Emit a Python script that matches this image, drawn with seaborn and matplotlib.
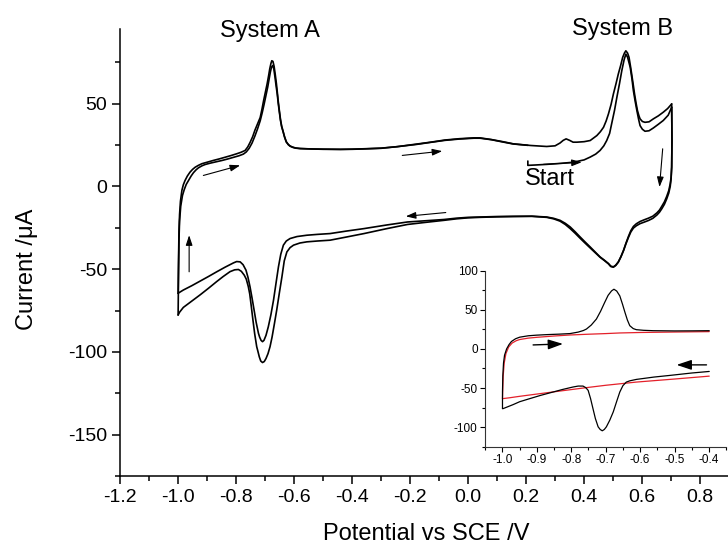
import pandas as pd
import matplotlib
matplotlib.use("Agg")
import matplotlib.pyplot as plt
import seaborn as sns
from matplotlib.ticker import MultipleLocator

# CV DATA: (potential / V vs SCE, current / uA)

# first anodic scan from the start potential
start_sweep = [
    (0.206, 15.3), (0.206, 12.7), (0.230, 12.9), (0.271, 13.3), (0.320, 13.9),
    (0.363, 14.6), (0.400, 16.0), (0.421, 17.7), (0.440, 19.5), (0.455, 21.7),
    (0.468, 24.5), (0.478, 27.7), (0.488, 32.0), (0.495, 37.8), (0.505, 46.0),
    (0.513, 53.8), (0.522, 62.0), (0.530, 69.9), (0.538, 76.5), (0.544, 79.9),
    (0.550, 78.0), (0.559, 71.9), (0.565, 65.0), (0.570, 57.8), (0.576, 51.5),
    (0.582, 45.8), (0.588, 40.5), (0.593, 36.7), (0.601, 34.5), (0.610, 33.3),
    (0.624, 33.6), (0.639, 35.3), (0.656, 37.5), (0.673, 39.8), (0.690, 43.0),
    (0.702, 47.8),
]

# cathodic scan 1
down_1 = [
    (0.702, 47.8), (0.703, 27.7), (0.702, 11.6), (0.700, 5.5), (0.697, 1.6),
    (0.692, -2.5), (0.685, -6.0), (0.677, -9.3), (0.668, -12.0), (0.660, -14.3),
    (0.651, -16.0), (0.637, -18.0), (0.622, -19.2), (0.607, -20.2), (0.593, -21.2),
    (0.580, -22.6), (0.570, -24.2), (0.561, -26.8), (0.553, -30.2), (0.544, -34.5),
    (0.536, -38.6), (0.527, -42.4), (0.518, -45.6), (0.509, -47.6), (0.501, -48.6),
    (0.492, -48.2), (0.484, -46.6), (0.470, -44.6), (0.455, -42.6), (0.438, -39.6),
    (0.421, -36.6), (0.403, -33.5), (0.386, -30.5), (0.369, -27.4), (0.352, -24.5),
    (0.335, -22.3), (0.317, -20.5), (0.295, -19.3), (0.271, -18.5), (0.220, -18.0),
    (0.156, -18.1), (0.100, -18.2), (0.041, -18.5), (0.000, -18.7), (-0.040, -19.2),
    (-0.083, -20.0), (-0.150, -20.8), (-0.209, -21.5), (-0.280, -23.3), (-0.359, -25.5),
    (-0.420, -27.0), (-0.476, -28.5), (-0.520, -29.0), (-0.556, -29.5), (-0.590, -30.3),
    (-0.614, -31.5), (-0.627, -33.0), (-0.637, -35.5), (-0.646, -41.0), (-0.654, -48.6),
    (-0.662, -58.0), (-0.671, -68.7), (-0.680, -77.5), (-0.689, -84.8), (-0.697, -90.0),
    (-0.704, -93.0), (-0.709, -93.8), (-0.714, -93.0), (-0.719, -91.0), (-0.723, -88.7),
    (-0.731, -82.0), (-0.738, -74.7), (-0.745, -67.5), (-0.752, -60.7), (-0.759, -55.0),
    (-0.766, -50.6), (-0.776, -47.3), (-0.786, -45.6), (-0.798, -45.4), (-0.809, -46.2),
    (-0.838, -48.8), (-0.867, -51.6), (-0.895, -54.4), (-0.924, -57.2), (-0.953, -60.0),
    (-0.982, -62.6), (-0.995, -64.0), (-1.000, -64.6),
]

# anodic scan 1
up_1 = [
    (-1.000, -64.6), (-0.999, -50.0), (-0.998, -38.0), (-0.997, -27.0), (-0.995, -17.0),
    (-0.992, -9.0), (-0.987, -2.4), (-0.982, 1.0), (-0.976, 3.6), (-0.968, 6.3),
    (-0.959, 8.6), (-0.950, 10.3), (-0.941, 11.6), (-0.930, 12.7), (-0.918, 13.7),
    (-0.898, 14.7), (-0.878, 15.7), (-0.858, 16.6), (-0.838, 17.6), (-0.818, 18.6),
    (-0.798, 19.7), (-0.783, 20.6), (-0.769, 21.7), (-0.760, 23.8), (-0.752, 26.5),
    (-0.743, 30.0), (-0.735, 34.0), (-0.726, 37.8), (-0.717, 41.6), (-0.711, 46.5),
    (-0.705, 52.0), (-0.699, 57.0), (-0.693, 62.0), (-0.688, 66.8), (-0.684, 71.0),
    (-0.680, 74.2), (-0.677, 75.9), (-0.673, 75.5), (-0.669, 72.5), (-0.665, 67.5),
    (-0.661, 62.0), (-0.658, 57.0), (-0.655, 51.8), (-0.651, 46.0), (-0.647, 40.5),
    (-0.643, 36.5), (-0.638, 33.3), (-0.633, 30.0), (-0.627, 27.0), (-0.620, 25.3),
    (-0.614, 24.4), (-0.605, 23.7), (-0.595, 23.2), (-0.579, 22.9), (-0.540, 22.6),
    (-0.500, 22.5), (-0.440, 22.4), (-0.400, 22.5), (-0.362, 22.7), (-0.300, 23.1),
    (-0.244, 24.0), (-0.180, 25.5), (-0.129, 26.7), (-0.080, 28.0), (-0.030, 28.8),
    (0.020, 29.3), (0.041, 29.3), (0.080, 28.3), (0.120, 27.0), (0.156, 25.7),
    (0.216, 24.7), (0.271, 24.1), (0.300, 24.5), (0.317, 26.2), (0.328, 27.8),
    (0.338, 28.7), (0.350, 27.8), (0.362, 26.7), (0.375, 26.7), (0.400, 27.0),
    (0.421, 27.7), (0.444, 30.7), (0.456, 33.0), (0.467, 35.7), (0.476, 39.5),
    (0.484, 43.8), (0.493, 49.5), (0.501, 55.8), (0.510, 62.0), (0.518, 67.9),
    (0.526, 73.0), (0.533, 77.9), (0.539, 80.5), (0.544, 81.9), (0.550, 80.5),
    (0.555, 77.9), (0.560, 72.5), (0.564, 67.9), (0.569, 62.0), (0.574, 55.8),
    (0.579, 50.5), (0.584, 45.8), (0.589, 42.7), (0.593, 40.8), (0.601, 39.2),
    (0.610, 38.7), (0.624, 39.0), (0.639, 40.8), (0.656, 42.6), (0.673, 44.8),
    (0.688, 47.0), (0.702, 49.8),
]

# cathodic scan 2
down_2 = [
    (0.702, 49.8), (0.703, 27.7), (0.702, 11.6), (0.700, 4.5), (0.697, 0.0),
    (0.692, -4.0), (0.685, -7.5), (0.677, -10.8), (0.668, -13.5), (0.660, -15.6),
    (0.651, -17.3), (0.637, -19.3), (0.622, -20.6), (0.607, -21.6), (0.593, -22.5),
    (0.580, -23.8), (0.570, -25.2), (0.561, -27.6), (0.553, -30.8), (0.544, -34.8),
    (0.536, -38.8), (0.527, -42.6), (0.518, -45.8), (0.509, -47.8), (0.501, -48.8),
    (0.492, -48.4), (0.484, -46.8), (0.470, -44.8), (0.455, -42.8), (0.438, -40.0),
    (0.421, -37.2), (0.403, -34.2), (0.386, -31.3), (0.369, -28.3), (0.352, -25.5),
    (0.335, -23.0), (0.317, -21.0), (0.295, -19.6), (0.271, -18.7), (0.220, -18.1),
    (0.156, -18.2), (0.100, -18.4), (0.041, -18.7), (0.000, -19.0), (-0.040, -19.6),
    (-0.083, -20.5), (-0.150, -21.8), (-0.209, -23.0), (-0.280, -25.5), (-0.359, -28.5),
    (-0.420, -30.6), (-0.476, -32.5), (-0.520, -33.0), (-0.556, -33.5), (-0.580, -34.2),
    (-0.602, -35.5), (-0.614, -37.0), (-0.625, -39.6), (-0.634, -45.0), (-0.642, -54.6),
    (-0.651, -64.5), (-0.660, -74.7), (-0.668, -83.0), (-0.676, -91.0), (-0.683, -96.8),
    (-0.690, -101.0), (-0.697, -104.0), (-0.703, -105.8), (-0.709, -106.4), (-0.715, -105.5),
    (-0.720, -103.0), (-0.725, -99.5), (-0.729, -96.8), (-0.736, -89.0), (-0.742, -80.7),
    (-0.748, -72.0), (-0.753, -65.0), (-0.758, -60.5), (-0.765, -56.0), (-0.772, -53.6),
    (-0.782, -51.3), (-0.792, -50.2), (-0.805, -50.4), (-0.821, -51.5), (-0.845, -54.5),
    (-0.867, -57.5), (-0.895, -61.5), (-0.924, -65.5), (-0.953, -69.3), (-0.982, -73.1),
    (-0.995, -76.0), (-1.000, -77.7),
]

# anodic scan 2, back to the start potential
up_2 = [
    (-1.000, -77.7), (-0.999, -60.0), (-0.998, -45.0), (-0.997, -32.0), (-0.995, -21.0),
    (-0.991, -12.0), (-0.985, -5.5), (-0.979, -2.0), (-0.972, 1.2), (-0.964, 3.6),
    (-0.955, 6.3), (-0.947, 8.3), (-0.938, 10.0), (-0.930, 11.2), (-0.918, 12.4),
    (-0.907, 13.2), (-0.890, 14.0), (-0.870, 14.8), (-0.850, 15.6), (-0.830, 16.5),
    (-0.810, 17.5), (-0.790, 18.5), (-0.775, 19.5), (-0.765, 20.8), (-0.755, 23.0),
    (-0.745, 26.2), (-0.735, 30.5), (-0.726, 34.8), (-0.717, 39.6), (-0.710, 44.5),
    (-0.703, 50.0), (-0.697, 55.0), (-0.691, 60.0), (-0.686, 65.0), (-0.682, 69.0),
    (-0.678, 72.0), (-0.674, 73.0), (-0.670, 71.0), (-0.666, 66.0), (-0.662, 60.5),
    (-0.658, 55.5), (-0.655, 50.5), (-0.651, 45.0), (-0.647, 39.8), (-0.643, 36.0),
    (-0.638, 33.0), (-0.633, 29.8), (-0.627, 26.8), (-0.620, 25.2), (-0.614, 24.3),
    (-0.605, 23.6), (-0.595, 23.1), (-0.579, 22.8), (-0.540, 22.6), (-0.500, 22.4),
    (-0.440, 22.3), (-0.400, 22.4), (-0.362, 22.6), (-0.300, 23.0), (-0.244, 24.0),
    (-0.180, 25.3), (-0.129, 26.6), (-0.080, 27.8), (-0.030, 28.6), (0.020, 29.1),
    (0.041, 29.1), (0.080, 28.2), (0.120, 26.8), (0.156, 25.6), (0.206, 24.8),
]

# INSET: one cycle of system A (black) and blank electrolyte (red)
inset_up = [
    (-1.000, -76.3), (-1.000, -55.0), (-0.999, -34.0), (-0.997, -18.0), (-0.994, -8.0),
    (-0.988, 0.0), (-0.981, 5.5), (-0.974, 9.5), (-0.962, 13.0), (-0.950, 15.0),
    (-0.925, 16.8), (-0.901, 17.6), (-0.870, 18.3), (-0.835, 18.9), (-0.804, 19.6),
    (-0.780, 21.5), (-0.765, 23.5), (-0.756, 25.4), (-0.742, 30.5), (-0.727, 38.2),
    (-0.715, 48.0), (-0.703, 59.4), (-0.693, 68.5), (-0.683, 74.2), (-0.676, 76.3),
    (-0.668, 74.0), (-0.659, 67.8), (-0.651, 57.0), (-0.644, 46.7), (-0.637, 37.0),
    (-0.630, 29.7), (-0.620, 26.0), (-0.611, 24.6), (-0.590, 23.8), (-0.562, 23.3),
    (-0.500, 23.0), (-0.450, 23.1), (-0.399, 23.3),
]
inset_down = [
    (-0.399, -28.8), (-0.450, -30.8), (-0.514, -33.9), (-0.560, -36.0), (-0.611, -39.0),
    (-0.630, -40.8), (-0.640, -42.4), (-0.650, -47.0), (-0.659, -55.1), (-0.668, -67.0),
    (-0.678, -80.5), (-0.688, -91.0), (-0.698, -99.6), (-0.704, -103.0), (-0.710, -104.7),
    (-0.716, -103.0), (-0.722, -99.6), (-0.730, -89.0), (-0.737, -76.3), (-0.744, -63.5),
    (-0.751, -53.0), (-0.758, -49.5), (-0.766, -47.5), (-0.780, -47.5), (-0.795, -48.7),
    (-0.825, -51.8), (-0.853, -55.1), (-0.890, -59.5), (-0.921, -63.6), (-0.950, -67.5),
    (-0.969, -71.2), (-0.985, -74.0), (-0.998, -76.3), (-1.000, -76.3),
]
blank_up = [
    (-1.000, -63.6), (-0.998, -35.0), (-0.995, -18.0), (-0.990, -6.0), (-0.982, 2.5),
    (-0.972, 7.5), (-0.960, 10.5), (-0.950, 12.0), (-0.925, 13.8), (-0.901, 14.8),
    (-0.850, 16.5), (-0.804, 17.8), (-0.750, 18.8), (-0.700, 19.6), (-0.659, 20.4),
    (-0.600, 21.0), (-0.500, 21.6), (-0.399, 22.1),
]
blank_down = [
    (-0.399, -34.8), (-0.500, -38.5), (-0.611, -42.4), (-0.700, -46.5), (-0.756, -49.5),
    (-0.853, -55.0), (-0.950, -60.6), (-0.980, -62.5), (-1.000, -63.6),
]

main_xticks = [-1.2, -1.0, -0.8, -0.6, -0.4, -0.2, 0.0, 0.2, 0.4, 0.6, 0.8]
main_yticks = [-150, -100, -50, 0, 50]
inset_xticks = [-1.0, -0.9, -0.8, -0.7, -0.6, -0.5, -0.4]
inset_yticks = [-100, -50, 0, 50, 100]


def to_frame(sweeps):
    rows = []
    for name, pts in sweeps.items():
        for e, i in pts:
            rows.append((name, e, i))
    return pd.DataFrame(rows, columns=["sweep", "E", "I"])


cv = to_frame({"start": start_sweep, "down1": down_1, "up1": up_1,
               "down2": down_2, "up2": up_2})
inset_cv = to_frame({"up": inset_up, "down": inset_down})
inset_blank = to_frame({"up": blank_up, "down": blank_down})

sns.set_style("ticks")
plt.rcParams["font.family"] = ["Liberation Sans", "DejaVu Sans"]
plt.rcParams["axes.unicode_minus"] = False
plt.rcParams["text.color"] = "black"
plt.rcParams["axes.labelcolor"] = "black"
plt.rcParams["xtick.color"] = "black"
plt.rcParams["ytick.color"] = "black"

fig = plt.figure(figsize=(7.28, 5.46), dpi=100)
ax = fig.add_axes([0.165, 0.128, 0.8365, 0.8187])

sns.lineplot(data=cv, x="E", y="I", units="sweep", estimator=None, sort=False,
             color="black", lw=1.2, ax=ax)

ax.set_xlim(-1.2, 0.9)
ax.set_ylim(-175, 95)
ax.set_xticks(main_xticks)
ax.set_xticklabels([f"{t:.1f}" for t in main_xticks])
ax.set_yticks(main_yticks)
ax.set_yticklabels([str(t) for t in main_yticks])
ax.xaxis.set_minor_locator(MultipleLocator(0.1))
ax.yaxis.set_minor_locator(MultipleLocator(25))
ax.tick_params(which="major", direction="out", length=6, width=1.1, labelsize=14, colors="black")
ax.tick_params(which="minor", direction="out", length=3.5, width=1.1, colors="black")
sns.despine(ax=ax)
for s in ["left", "bottom"]:
    ax.spines[s].set_linewidth(1.1)
    ax.spines[s].set_color("black")

ax.set_xlabel("Potential vs SCE /V", fontsize=17, color="black")
ax.set_ylabel("Current /\u03bcA", fontsize=17, color="black")
ax.xaxis.set_label_coords(0.503, -0.105)
ax.yaxis.set_label_coords(-0.135, 0.463)

ax.text(-0.683, 94, "System A", fontsize=17, ha="center", va="center", clip_on=False, color="black")
ax.text(0.532, 95, "System B", fontsize=17, ha="center", va="center", clip_on=False, color="black")
ax.text(0.283, 4.6, "Start", fontsize=17, ha="center", va="center", color="black")

arrow_kw = dict(arrowstyle="-|>,head_length=0.6,head_width=0.2", color="black", lw=0.8,
                shrinkA=0, shrinkB=0)
ax.annotate("", xy=(-0.962, -29.5), xytext=(-0.962, -51.6), arrowprops=arrow_kw)
ax.annotate("", xy=(-0.786, 12.7), xytext=(-0.913, 6.6), arrowprops=arrow_kw)
ax.annotate("", xy=(-0.089, 21.3), xytext=(-0.227, 18.7), arrowprops=arrow_kw)
ax.annotate("", xy=(-0.215, -18.1), xytext=(-0.077, -15.8), arrowprops=arrow_kw)
ax.annotate("", xy=(0.392, 14.6), xytext=(0.260, 13.3), arrowprops=arrow_kw)
ax.annotate("", xy=(0.660, -0.4), xytext=(0.671, 22.7), arrowprops=arrow_kw)

# INSET
ins = fig.add_axes([0.6666, 0.1819, 0.3308, 0.3223])
ins.set_facecolor("white")
sns.lineplot(data=inset_blank, x="E", y="I", units="sweep", estimator=None, sort=False,
             color="#e3202a", lw=0.9, ax=ins)
sns.lineplot(data=inset_cv, x="E", y="I", units="sweep", estimator=None, sort=False,
             color="black", lw=0.9, ax=ins)
ins.set_xlim(-1.05, -0.35)
ins.set_ylim(-125, 100)
ins.set_xticks(inset_xticks)
ins.set_xticklabels([f"{t:.1f}" for t in inset_xticks])
ins.set_yticks(inset_yticks)
ins.set_yticklabels([str(t) for t in inset_yticks])
ins.xaxis.set_minor_locator(MultipleLocator(0.05))
ins.yaxis.set_minor_locator(MultipleLocator(25))
ins.tick_params(which="major", direction="out", length=3.5, width=0.8, labelsize=8.5, pad=2,
                colors="black")
ins.tick_params(which="minor", direction="out", length=2, width=0.8)
ins.set_xlabel("")
ins.set_ylabel("")
sns.despine(ax=ins)
for s in ["left", "bottom"]:
    ins.spines[s].set_linewidth(0.8)
    ins.spines[s].set_color("#333333")

inset_arrow = dict(arrowstyle="-|>,head_length=0.9,head_width=0.3", color="black", lw=1.0,
                   shrinkA=0, shrinkB=0)
ins.annotate("", xy=(-0.824, 6.4), xytext=(-0.911, 5.1), arrowprops=inset_arrow)
ins.annotate("", xy=(-0.494, -20.4), xytext=(-0.407, -20.4), arrowprops=inset_arrow)

plt.savefig("out.png", dpi=100)
plt.close()
